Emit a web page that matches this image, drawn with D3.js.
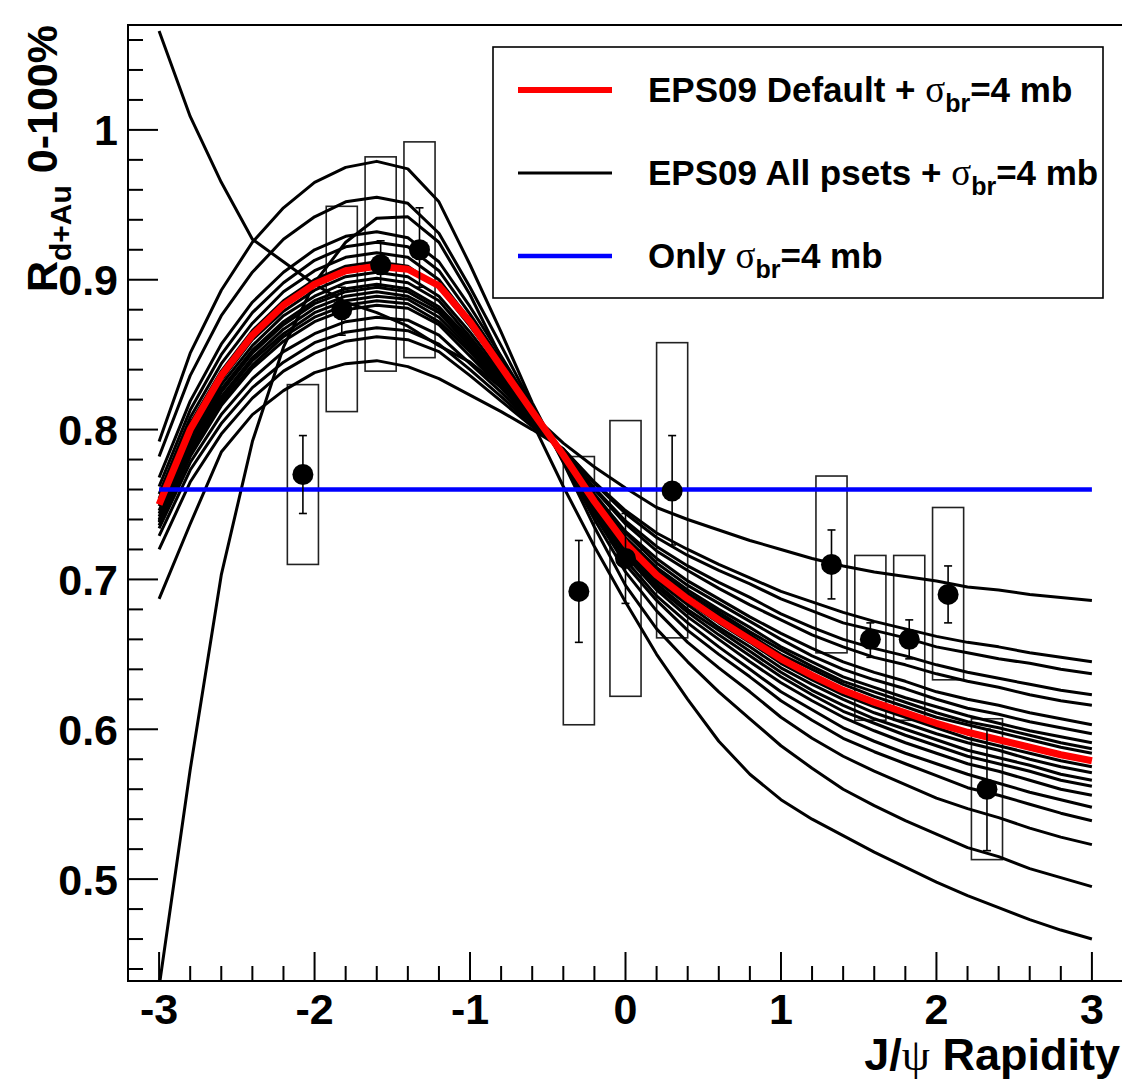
<!DOCTYPE html>
<html>
<head>
<meta charset="utf-8">
<script src="https://cdn.jsdelivr.net/npm/d3@7"></script>
<style>
    body { margin: 0; background: #fff; }
    #chart-area { width: 1122px; height: 1080px; }
    text { font-family: "Liberation Sans", Arial, Helvetica, sans-serif; font-weight: bold; fill: #000; }
    .greek { font-family: "Liberation Serif", "DejaVu Serif", serif; font-weight: normal; }
</style>
</head>
<body>
<div id="chart-area"></div>
<script>

// rapidity grid of the model curves
const rapidity = [-3, -2.8, -2.6, -2.4, -2.2, -2.0, -1.8, -1.6, -1.4, -1.2, -1.0, -0.8, -0.6, -0.4, -0.2, 0,
    0.2, 0.4, 0.6, 0.8, 1.0, 1.2, 1.4, 1.6, 1.8, 2.0, 2.2, 2.4, 2.6, 2.8, 3.0];

// EPS09 default + sigma_br = 4 mb (red)
const eps09Default = [.750, .800, .836, .863, .883, .897, .906, .909, .907, .896, .872, .842, .812, .783, .752, .724,
    .703, .687, .673, .660, .647, .636, .626, .618, .611, .604, .598, .593, .588, .583, .579];

// EPS09 error sets + sigma_br = 4 mb (black)
const eps09Psets = [
    [1.066, 1.009, .965, .927, .912, .897, .885, .878, .869, .856, .845, .828, .810, .791, .775, .761,
        .748, .740, .733, .726, .720, .714, .709, .705, .702, .699, .695, .693, .690, .688, .686],
    [.428, .573, .703, .792, .855, .898, .925, .941, .942, .925, .890, .848, .805, .762, .722, .685,
        .650, .620, .592, .570, .553, .540, .529, .518, .508, .498, .489, .481, .473, .466, .460],
    [.792, .851, .893, .925, .948, .965, .975, .979, .974, .952, .910, .865, .818, .778, .735, .696,
        .667, .645, .625, .607, .589, .574, .560, .549, .539, .530, .521, .515, .507, .501, .495],
    [.782, .836, .876, .905, .927, .942, .952, .955, .951, .931, .895, .856, .816, .779, .740, .705,
        .679, .658, .641, .625, .608, .594, .582, .572, .563, .554, .547, .541, .534, .528, .523],
    [.768, .819, .857, .885, .905, .920, .929, .932, .928, .912, .882, .849, .815, .780, .743, .710,
        .686, .666, .650, .635, .619, .606, .594, .585, .577, .569, .561, .556, .550, .544, .539],
    [.762, .813, .850, .878, .898, .913, .922, .925, .922, .906, .877, .846, .814, .780, .745, .713,
        .689, .671, .655, .640, .625, .613, .601, .592, .584, .577, .570, .564, .558, .553, .548],
    [.757, .808, .844, .871, .892, .906, .915, .918, .915, .900, .873, .843, .813, .781, .747, .716,
        .693, .675, .660, .645, .631, .619, .608, .599, .591, .584, .577, .572, .566, .560, .556],
    [.754, .804, .839, .866, .886, .900, .909, .912, .909, .895, .869, .841, .812, .781, .748, .718,
        .695, .678, .663, .649, .635, .623, .612, .604, .596, .589, .582, .577, .572, .566, .562],
    [.749, .798, .833, .860, .879, .893, .902, .905, .902, .889, .865, .838, .811, .782, .749, .720,
        .697, .680, .666, .652, .638, .626, .616, .607, .600, .593, .586, .581, .576, .570, .566],
    [.746, .795, .830, .856, .876, .889, .898, .901, .898, .886, .862, .836, .810, .782, .750, .721,
        .699, .683, .668, .655, .641, .630, .620, .611, .604, .597, .591, .586, .580, .575, .571],
    [.744, .792, .827, .853, .872, .886, .894, .897, .894, .882, .860, .835, .810, .783, .751, .723,
        .701, .685, .671, .658, .644, .633, .623, .615, .608, .601, .594, .589, .584, .579, .575],
    [.742, .790, .825, .851, .870, .884, .892, .895, .892, .880, .858, .834, .809, .783, .753, .725,
        .705, .689, .676, .663, .650, .640, .630, .622, .615, .608, .603, .598, .593, .588, .584],
    [.740, .788, .822, .848, .867, .881, .889, .892, .889, .878, .856, .832, .808, .784, .754, .727,
        .707, .691, .678, .665, .653, .642, .632, .625, .618, .611, .605, .601, .596, .591, .587],
    [.739, .786, .820, .846, .864, .878, .886, .889, .887, .875, .854, .831, .807, .784, .755, .728,
        .708, .693, .680, .668, .655, .645, .635, .628, .621, .615, .609, .604, .599, .595, .591],
    [.738, .784, .818, .843, .862, .875, .883, .886, .884, .872, .852, .829, .806, .785, .756, .731,
        .711, .696, .684, .672, .660, .649, .640, .633, .627, .620, .614, .610, .605, .601, .597],
    [.736, .782, .816, .841, .859, .872, .880, .883, .881, .870, .849, .828, .805, .785, .757, .732,
        .714, .699, .687, .675, .664, .654, .645, .638, .632, .625, .620, .616, .611, .607, .603],
    [.734, .778, .810, .834, .852, .864, .872, .875, .873, .863, .844, .825, .804, .786, .760, .737,
        .719, .706, .694, .683, .673, .663, .655, .648, .643, .637, .632, .628, .623, .619, .616],
    [.729, .773, .804, .828, .845, .858, .865, .868, .866, .857, .840, .822, .803, .786, .761, .739,
        .722, .709, .698, .688, .677, .668, .660, .654, .649, .643, .638, .634, .630, .626, .623],
    [.720, .765, .797, .821, .839, .851, .859, .862, .860, .852, .836, .819, .802, .787, .764, .744,
        .728, .716, .706, .697, .687, .679, .671, .666, .661, .655, .651, .647, .644, .640, .637],
    [.687, .737, .785, .810, .826, .838, .844, .846, .842, .834, .823, .812, .800, .787, .765, .746,
        .731, .720, .710, .701, .692, .685, .678, .672, .667, .662, .658, .655, .651, .648, .645]
];

// only sigma_br = 4 mb (blue)
const breakupX = [-3, 3];
const breakupY = [0.76, 0.76];

// PHENIX d+Au 0-100% data points
const dataRapidity = [-2.075, -1.825, -1.575, -1.325, -0.3, 0, 0.3, 1.325, 1.575, 1.825, 2.075, 2.325];
const dataRdAu = [0.770, 0.880, 0.910, 0.920, 0.692, 0.714, 0.759, 0.710, 0.660, 0.660, 0.690, 0.560];
const statLow = [0.744, 0.863, 0.895, 0.895, 0.658, 0.684, 0.723, 0.687, 0.648, 0.647, 0.671, 0.519];
const statHigh = [0.796, 0.895, 0.926, 0.948, 0.726, 0.744, 0.796, 0.733, 0.671, 0.673, 0.709, 0.600];
const sysLow = [0.710, 0.812, 0.839, 0.848, 0.603, 0.622, 0.661, 0.651, 0.606, 0.606, 0.633, 0.513];
const sysHigh = [0.830, 0.949, 0.982, 0.992, 0.782, 0.806, 0.858, 0.769, 0.716, 0.716, 0.748, 0.607];
const sysHalfWidth = 0.1;

// axis ticks
const xTicks = [-3, -2, -1, 0, 1, 2, 3];
const yTicks = [0.5, 0.6, 0.7, 0.8, 0.9, 1.0];

class RdAuChart {
    constructor(parentElement) {
        this.parentElement = parentElement;
        this.initVis();
    }

    initVis() {
        let vis = this;

        // frame position (ROOT pad)
        vis.frame = { left: 128, top: 25, right: 1123, bottom: 981 };

        vis.svg = d3.select("#" + vis.parentElement).append("svg")
            .attr("width", 1122)
            .attr("height", 1080);

        vis.x = d3.scaleLinear().domain([-3.2, 3.2]).range([vis.frame.left, vis.frame.right]);
        vis.y = d3.scaleLinear().domain([0.432, 1.07]).range([vis.frame.bottom, vis.frame.top]);

        vis.svg.append("clipPath").attr("id", "frame-clip")
            .append("rect")
            .attr("x", vis.frame.left)
            .attr("y", vis.frame.top)
            .attr("width", vis.frame.right - vis.frame.left)
            .attr("height", vis.frame.bottom - vis.frame.top);

        vis.plot = vis.svg.append("g").attr("clip-path", "url(#frame-clip)");

        vis.line = d3.line()
            .x((d, i) => vis.x(rapidity[i]))
            .y(d => vis.y(d));

        vis.drawAxes();
        vis.updateVis();
        vis.drawLegend();
    }

    drawAxes() {
        let vis = this;
        let f = vis.frame;

        // frame
        vis.svg.append("rect")
            .attr("x", f.left).attr("y", f.top)
            .attr("width", f.right - f.left).attr("height", f.bottom - f.top)
            .attr("fill", "none").attr("stroke", "#000").attr("stroke-width", 2);

        // y ticks: major every 0.1, minor every 0.02
        let yMinor = d3.range(0.44, 1.0701, 0.02);
        vis.svg.append("g").selectAll("line")
            .data(yMinor)
            .join("line")
            .attr("x1", f.left)
            .attr("x2", d => f.left + (Math.abs(d * 10 - Math.round(d * 10)) < 1e-6 ? 30 : 15))
            .attr("y1", d => vis.y(d)).attr("y2", d => vis.y(d))
            .attr("stroke", "#000").attr("stroke-width", 2);

        vis.svg.append("g").selectAll("text")
            .data(yTicks)
            .join("text")
            .attr("x", f.left - 10)
            .attr("y", d => vis.y(d))
            .attr("dy", "0.36em")
            .attr("text-anchor", "end")
            .style("font-size", "43px")
            .text(d => d === 1 ? "1" : d3.format(".1f")(d));

        // x ticks: major every 1, minor every 0.2
        let xMinor = d3.range(-3.2, 3.2001, 0.2).map(d => Math.round(d * 10) / 10);
        vis.svg.append("g").selectAll("line")
            .data(xMinor)
            .join("line")
            .attr("x1", d => vis.x(d)).attr("x2", d => vis.x(d))
            .attr("y1", f.bottom)
            .attr("y2", d => f.bottom - (Number.isInteger(d) ? 29 : 15))
            .attr("stroke", "#000").attr("stroke-width", 2);

        vis.svg.append("g").selectAll("text")
            .data(xTicks)
            .join("text")
            .attr("x", d => vis.x(d))
            .attr("y", 1024)
            .attr("text-anchor", "middle")
            .style("font-size", "43px")
            .text(d => d);

        // axis titles
        let xt = vis.svg.append("text")
            .attr("x", 1120).attr("y", 1070)
            .attr("text-anchor", "end")
            .style("font-size", "45px");
        xt.append("tspan").text("J/");
        xt.append("tspan").attr("class", "greek").text("ψ");
        xt.append("tspan").text(" Rapidity");

        let yt = vis.svg.append("text")
            .attr("transform", "translate(57,25) rotate(-90)")
            .attr("text-anchor", "end")
            .style("font-size", "43px");
        yt.append("tspan").text("R");
        yt.append("tspan").attr("dy", 14).style("font-size", "30px").text("d+Au");
        yt.append("tspan").attr("dy", -14).text(" 0-100%");
    }

    updateVis() {
        let vis = this;

        // systematic boxes
        vis.plot.append("g").selectAll("rect")
            .data(dataRapidity)
            .join("rect")
            .attr("x", d => vis.x(d - sysHalfWidth))
            .attr("width", d => vis.x(d + sysHalfWidth) - vis.x(d - sysHalfWidth))
            .attr("y", (d, i) => vis.y(sysHigh[i]))
            .attr("height", (d, i) => vis.y(sysLow[i]) - vis.y(sysHigh[i]))
            .attr("fill", "none")
            .attr("stroke", "#222")
            .attr("stroke-width", 1.6);

        // EPS09 error sets
        vis.plot.append("g").selectAll("path")
            .data(eps09Psets)
            .join("path")
            .attr("d", vis.line)
            .attr("fill", "none")
            .attr("stroke", "#000")
            .attr("stroke-width", 3)
            .attr("stroke-linejoin", "round");

        // EPS09 default
        vis.plot.append("path")
            .datum(eps09Default)
            .attr("d", vis.line)
            .attr("fill", "none")
            .attr("stroke", "#ff0000")
            .attr("stroke-width", 7)
            .attr("stroke-linejoin", "round");

        // breakup only
        vis.plot.append("line")
            .attr("x1", vis.x(breakupX[0])).attr("x2", vis.x(breakupX[1]))
            .attr("y1", vis.y(breakupY[0])).attr("y2", vis.y(breakupY[1]))
            .attr("stroke", "#0000ff")
            .attr("stroke-width", 4.5);

        // statistical error bars
        let bars = vis.plot.append("g").attr("stroke", "#000").attr("stroke-width", 1.6);
        dataRapidity.forEach((d, i) => {
            let cx = vis.x(d);
            bars.append("line").attr("x1", cx).attr("x2", cx)
                .attr("y1", vis.y(statHigh[i])).attr("y2", vis.y(statLow[i]));
            [statHigh[i], statLow[i]].forEach(v => {
                bars.append("line").attr("x1", cx - 4).attr("x2", cx + 4)
                    .attr("y1", vis.y(v)).attr("y2", vis.y(v));
            });
        });

        // markers
        vis.plot.append("g").selectAll("circle")
            .data(dataRapidity)
            .join("circle")
            .attr("cx", d => vis.x(d))
            .attr("cy", (d, i) => vis.y(dataRdAu[i]))
            .attr("r", 10.5)
            .attr("fill", "#000");
    }

    drawLegend() {
        let vis = this;

        let lg = vis.svg.append("g");
        lg.append("rect")
            .attr("x", 493).attr("y", 47)
            .attr("width", 610).attr("height", 251)
            .attr("fill", "#fff").attr("stroke", "#000").attr("stroke-width", 1.6);

        let entries = [
            { color: "#ff0000", width: 6, y: 90, lead: "EPS09 Default + " },
            { color: "#000", width: 3, y: 173, lead: "EPS09 All psets + " },
            { color: "#0000ff", width: 4.5, y: 256, lead: "Only " }
        ];

        entries.forEach(e => {
            lg.append("line")
                .attr("x1", 518).attr("x2", 612)
                .attr("y1", e.y).attr("y2", e.y)
                .attr("stroke", e.color).attr("stroke-width", e.width);

            let t = lg.append("text")
                .attr("x", 648).attr("y", e.y + 12)
                .style("font-size", "35px");
            t.append("tspan").text(e.lead);
            t.append("tspan").attr("class", "greek").style("font-size", "37px").text("σ");
            t.append("tspan").attr("dy", 10).style("font-size", "25px").text("br");
            t.append("tspan").attr("dy", -10).text("=4 mb");
        });
    }
}

new RdAuChart("chart-area");
</script>
</body>
</html>
